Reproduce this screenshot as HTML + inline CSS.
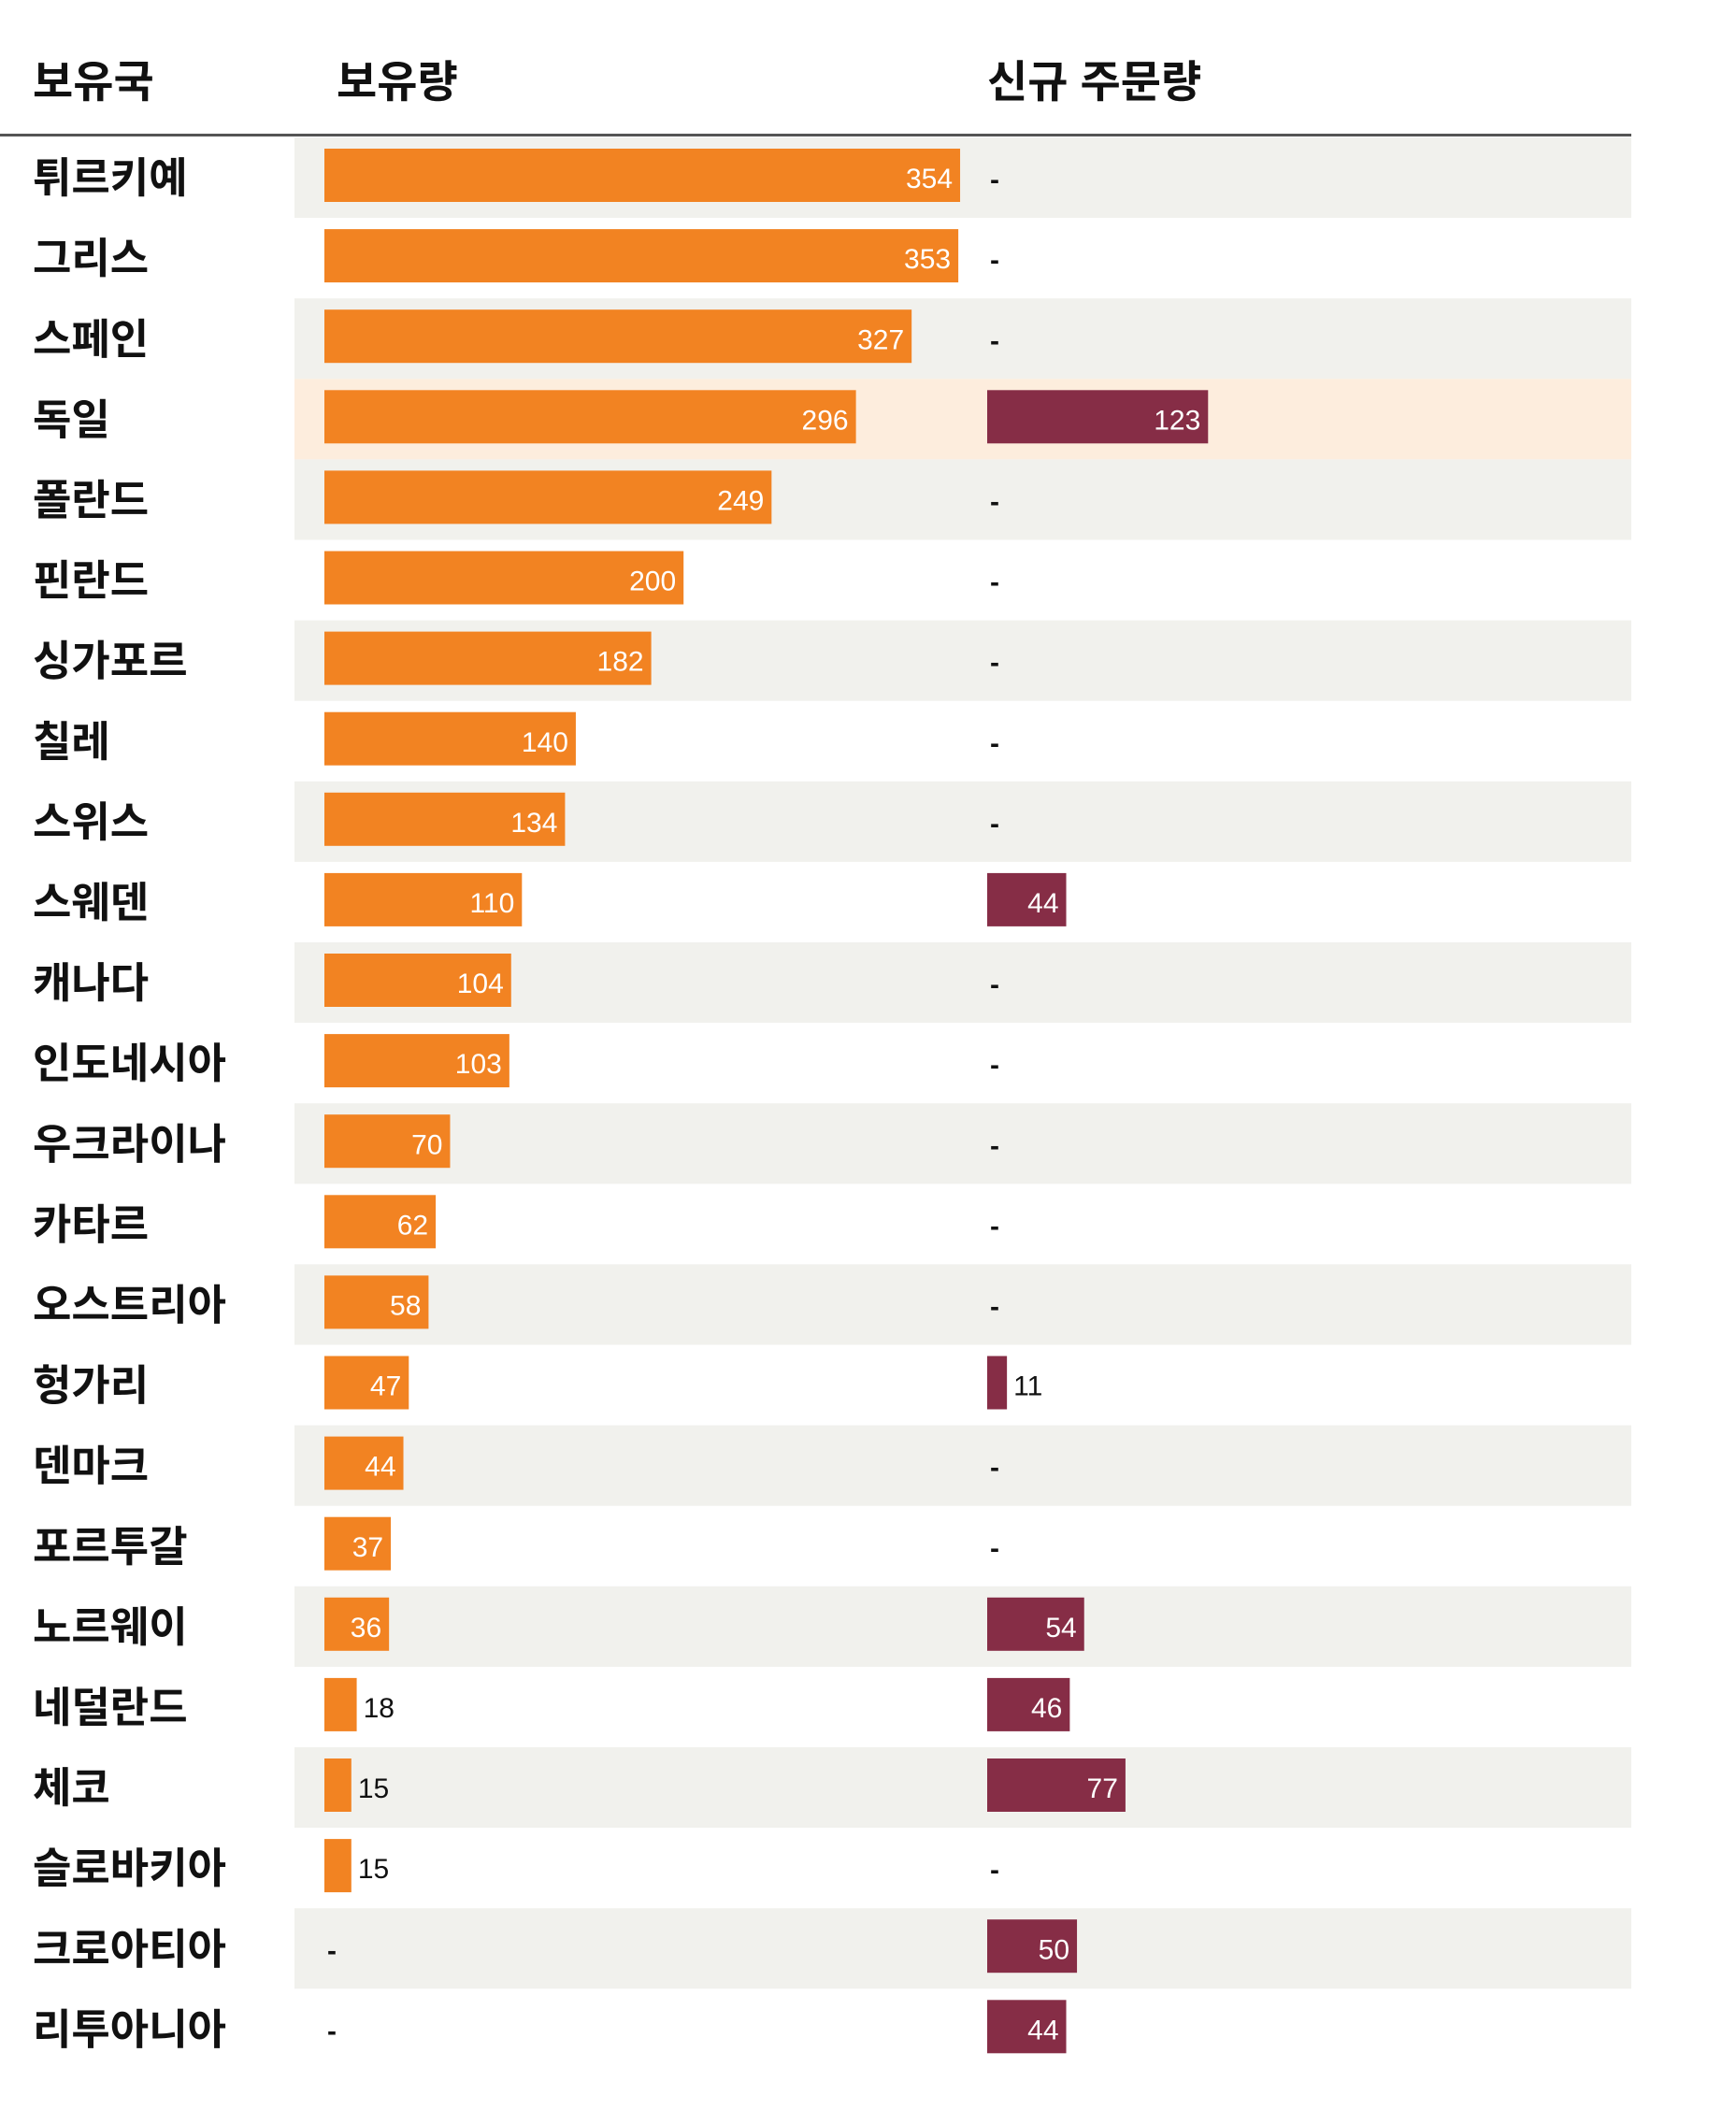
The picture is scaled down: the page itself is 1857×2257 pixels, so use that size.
<!DOCTYPE html>
<html><head><meta charset="utf-8"><style>
html,body{margin:0;padding:0;background:#fff;}
svg{display:block;font-family:"Liberation Sans","Noto Sans CJK KR",sans-serif;}
</style></head><body>
<svg id="chart" width="1857" height="2257" viewBox="0 0 1857 2257" xmlns="http://www.w3.org/2000/svg">
<text x="35" y="104" font-size="47" font-weight="bold" fill="#111">보유국</text>
<text x="360" y="104" font-size="47" font-weight="bold" fill="#111">보유량</text>
<text x="1056" y="104" font-size="47" font-weight="bold" fill="#111">신규 주문량</text>
<rect x="0" y="143" width="1745" height="3" fill="#555"/>
<g id="rows"></g>
</svg>
<script>
const countries = ["튀르키예","그리스","스페인","독일","폴란드","핀란드","싱가포르","칠레","스위스","스웨덴","캐나다","인도네시아","우크라이나","카타르","오스트리아","헝가리","덴마크","포르투갈","노르웨이","네덜란드","체코","슬로바키아","크로아티아","리투아니아"];
const holdings = [354,353,327,296,249,200,182,140,134,110,104,103,70,62,58,47,44,37,36,18,15,15,null,null];
const newOrders = [null,null,null,123,null,null,null,null,null,44,null,null,null,null,null,11,null,null,54,46,77,null,50,44];
const highlighted = ["독일"];

const NS = "http://www.w3.org/2000/svg";
const g = document.getElementById("rows");
const rowTop = 147, rowH = 86.1, rowX = 315, rowW = 1430;
const x0H = 347, x0N = 1056, k = 1.921;
const xH = v => x0H + v * k;
const xN = v => x0N + v * k;
function mk(tag, attrs){ const e = document.createElementNS(NS, tag); for (const a in attrs) e.setAttribute(a, attrs[a]); return e; }

countries.forEach((c, i) => {
  const y = rowTop + i * rowH;
  const cy = y + rowH / 2;
  const hl = highlighted.includes(c);
  if (hl || i % 2 === 0) {
    const bg = mk("rect", {x: rowX, y: y, width: rowW, height: rowH, fill: hl ? "#fdeddd" : "#f1f1ed"});
    
    
    g.appendChild(bg);
  }
  const lab = mk("text", {x: 35, y: cy + 16, "font-size": 45, "font-weight": "bold", fill: "#111"});
  lab.textContent = c;
  
  
  g.appendChild(lab);

  [[holdings[i], xH, x0H, "#f28322", "holdings"], [newOrders[i], xN, x0N, "#862d46", "new-orders"]].forEach(([v, sx, x0, col, nm]) => {
    if (v === null) {
      const d = mk("text", {x: x0 + 3, y: cy + 12, "font-size": 30, "font-weight": "bold", fill: "#111"});
      d.textContent = "-";
      
      
      g.appendChild(d);
      return;
    }
    const b = mk("rect", {x: x0, y: y + 12, width: sx(v) - x0, height: 57, fill: col});
    
    
    g.appendChild(b);
    const inside = v >= 20;
    const t = mk("text", {x: inside ? sx(v) - 8 : sx(v) + 7, y: cy + 11, "font-size": 30, fill: inside ? "#fff" : "#111", "text-anchor": inside ? "end" : "start"});
    t.textContent = v;
    
    
    g.appendChild(t);
  });
});
</script>
</body></html>
